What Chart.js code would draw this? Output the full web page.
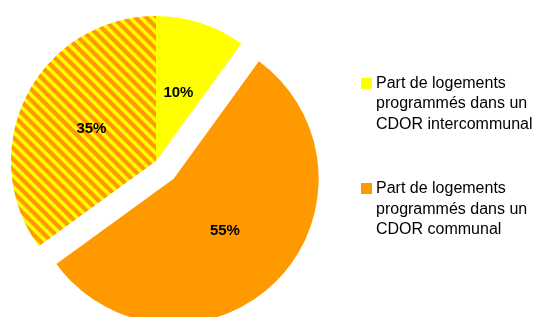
<!DOCTYPE html>
<html>
<head>
<meta charset="utf-8">
<script src="https://cdn.jsdelivr.net/npm/chart.js@4/dist/chart.umd.min.js"></script>
<style>
  body { margin: 0; background: #fff; }
  #wrap { position: relative; width: 534px; height: 317px; overflow: hidden; }
  #chart { position: absolute; left: 0; top: 0; }
  #legend {
    position: absolute; left: 361px; top: 73px;
    font: 16px "Liberation Sans", Arial, sans-serif; color: #000;
    line-height: 20.4px;
  }
  .item { position: relative; padding-left: 15px; margin-bottom: 44px; white-space: nowrap; }
  .box { position: absolute; left: 0; top: 5px; width: 11px; height: 11px; }
</style>
</head>
<body>
<div id="wrap">
  <canvas id="chart" width="534" height="317"></canvas>
  <div id="legend"></div>
</div>
<script>
// ================= DATA =================
const labels = ["CDOR intercommunal", "CDOR communal", "CDOR communal et intercommunal"];
const values = [10, 55, 35];
const valueLabels = ["10%", "55%", "35%"];

// legend only lists the two plain slices
const legendLines = [
  ["Part de logements", "programmés dans un", "CDOR intercommunal"],
  ["Part de logements", "programmés dans un", "CDOR communal"]
];

// ================= STYLE =================
const yellow = "#FFFF00";
const orange = "#FF9900";
const explode = [0, 25, 0];

// striped tile: orange with yellow "\" bands
function stripes() {
  const p = 11;
  const tile = document.createElement("canvas");
  tile.width = p; tile.height = p;
  const tctx = tile.getContext("2d");
  const img = tctx.createImageData(p, p);
  const shade = [[255, 215, 0], [255, 245, 0], [255, 255, 0], [255, 255, 0], [255, 240, 0], [255, 205, 0]];
  for (let y = 0; y < p; y++) {
    for (let x = 0; x < p; x++) {
      const d = ((x - y) % p + p) % p;
      const c = shade[d] || [255, 153, 0];
      const k = (y * p + x) * 4;
      img.data[k] = c[0]; img.data[k + 1] = c[1]; img.data[k + 2] = c[2]; img.data[k + 3] = 255;
    }
  }
  tctx.putImageData(img, 0, 0);
  return tctx.createPattern(tile, "repeat");
}

const colors = [yellow, orange, stripes()];
const legendColors = [yellow, orange];

// ================= LEGEND =================
const legend = document.getElementById("legend");
legendLines.forEach((lines, i) => {
  const d = document.createElement("div");
  d.className = "item";
  d.innerHTML = `<span class="box" style="background:${legendColors[i]}"></span>${lines.join("<br>")}`;
  legend.appendChild(d);
});

// ================= PLUGINS =================
// pull exploded slices out along their middle angle
const explodePlugin = {
  id: "explode",
  afterDatasetUpdate(chart, args) {
    const meta = chart.getDatasetMeta(args.index);
    meta.data.forEach((arc, i) => {
      const e = explode[i] || 0;
      if (!e) return;
      const mid = (arc.startAngle + arc.endAngle) / 2;
      arc.x += Math.cos(mid) * e;
      arc.y += Math.sin(mid) * e;
    });
  }
};

const valuePlugin = {
  id: "values",
  afterDatasetsDraw(chart) {
    const ctx = chart.ctx;
    const meta = chart.getDatasetMeta(0);
    ctx.save();
    ctx.font = "bold 15px 'Liberation Sans', Arial, sans-serif";
    ctx.fillStyle = "#000";
    ctx.textAlign = "center";
    ctx.textBaseline = "middle";
    meta.data.forEach((arc, i) => {
      const p = arc.tooltipPosition();
      ctx.fillText(valueLabels[i], p.x, p.y + 1);
    });
    ctx.restore();
  }
};

// ================= CHART =================
new Chart(document.getElementById("chart").getContext("2d"), {
  type: "pie",
  data: {
    labels: labels,
    datasets: [{
      data: values,
      backgroundColor: colors,
      borderWidth: 0,
      hoverOffset: 0,
      radius: 145
    }]
  },
  options: {
    responsive: false,
    devicePixelRatio: 1,
    animation: false,
    events: [],
    layout: { padding: { left: 0, right: 222, top: 5, bottom: 0 } },
    plugins: {
      legend: { display: false },
      title: { display: false },
      tooltip: { enabled: false }
    }
  },
  plugins: [explodePlugin, valuePlugin]
});
</script>
</body>
</html>
